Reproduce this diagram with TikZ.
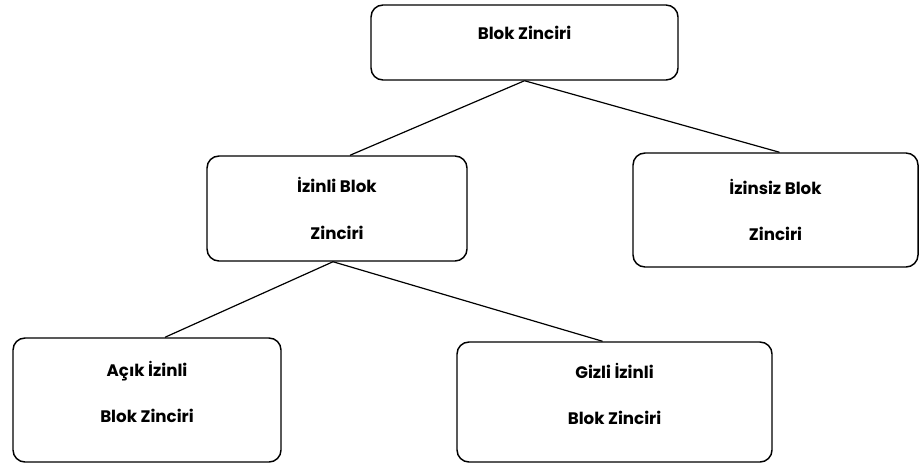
\documentclass[tikz,border=0pt]{standalone}
\usepackage{fontspec}
\setmainfont{Poppins}
\usetikzlibrary{positioning}
\tikzset{
  kutu/.style={rectangle, rounded corners=9pt, draw=black, line width=1.1pt, fill=white,
               align=center, font=\fontsize{12.5}{15}\selectfont\bfseries, inner sep=0pt},
  bag/.style={draw=black, line width=0.9pt}
}
\begin{document}
\begin{tikzpicture}[x=0.75pt, y=-0.75pt]
  \useasboundingbox (0,0) rectangle (919,464);
  \node[kutu, minimum width=230.25pt, minimum height=56.25pt, text depth=15pt] (blok) at (524.5,42.5) {Blok Zinciri};
  \node[kutu, minimum width=195pt, minimum height=78.75pt] (izinli) at (337,208.5) {İzinli Blok\\[20pt]Zinciri};
  \node[kutu, minimum width=213.75pt, minimum height=85.5pt] (izinsiz) at (775.5,210) {İzinsiz Blok\\[20pt]Zinciri};
  \node[kutu, minimum width=201pt, minimum height=93pt, text depth=12pt] (acik) at (147,400) {Açık İzinli\\[20pt]Blok Zinciri};
  \node[kutu, minimum width=236.25pt, minimum height=90pt, text depth=12pt] (gizli) at (614.5,402) {Gizli İzinli\\[20pt]Blok Zinciri};

  \draw[bag] (blok.south) -- ([xshift=9.75pt]izinli.north);
  \draw[bag] (blok.south) -- ([xshift=3pt]izinsiz.north);
  \draw[bag] ([xshift=-3pt]izinli.south) -- ([xshift=13.5pt]acik.north);
  \draw[bag] ([xshift=-3pt]izinli.south) -- ([xshift=-9pt]gizli.north);
\end{tikzpicture}
\end{document}
